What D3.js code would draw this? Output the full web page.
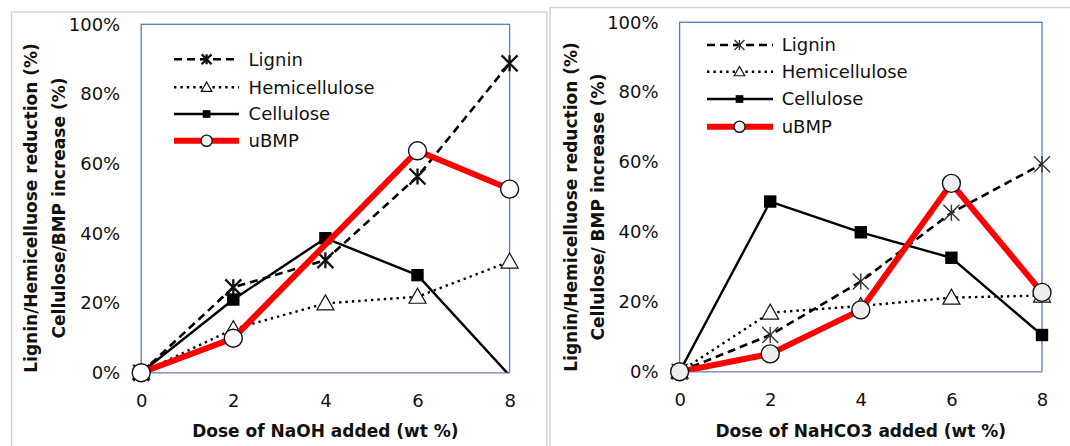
<!DOCTYPE html>
<html>
<head>
<meta charset="utf-8">
<script src="https://cdn.jsdelivr.net/npm/d3@7"></script>
<style>
  body { margin: 0; background: #fff; }
  svg { display: block; }
  text { font-family: "DejaVu Sans", sans-serif; fill: #111; }
</style>
</head>
<body>
<svg id="chart" width="1070" height="446"></svg>
<script>
// doses on the x axis and y tick values
const doses = [0, 2, 4, 6, 8];
const yTicks = [0, 0.2, 0.4, 0.6, 0.8, 1.0];
const seriesNames = ['Lignin', 'Hemicellulose', 'Cellulose', 'uBMP'];

// NaOH panel (left)
const naohLignin = [0, 0.245, 0.323, 0.563, 0.888];
const naohHemi = [0, 0.125, 0.199, 0.218, 0.319];
const naohCellulose = [0, 0.21, 0.386, 0.28, -0.008];
const naohBMP = [0, 0.099, null, 0.637, 0.527];

// NaHCO3 panel (right)
const nahco3Lignin = [0, 0.105, 0.258, 0.455, 0.594];
const nahco3Hemi = [0, 0.169, 0.188, 0.212, 0.218];
const nahco3Cellulose = [0, 0.487, 0.399, 0.326, 0.105];
const nahco3BMP = [0, 0.051, 0.177, 0.539, 0.227];

const svg = d3.select('#chart');

const panels = [
  {
    id: 'naoh',
    frame: {x: 11.5, y: 12, w: 535.5},
    xRange: [141.2, 509.6], yRange: [372.7, 24.3],
    xTitle: 'Dose of NaOH added (wt %)',
    yTitle: ['Lignin/Hemicelluose reduction (%)', 'Cellulose/BMP increase (%)'],
    yTitleX: [37, 65], yTitleY: 208,
    legend: {x0: 174, x1: 239, xm: 206.6, xt: 248.6, ys: [59.3, 87.3, 114, 140.7]},
    values: [naohLignin, naohHemi, naohCellulose, naohBMP],
    starWidth: 2.3, starColor: '#111', circleFill: '#fff'
  },
  {
    id: 'nahco3',
    frame: {x: 550, y: 7.5, w: 540},
    xRange: [679.6, 1042], yRange: [371.7, 22.3],
    xTitle: 'Dose of NaHCO3 added (wt %)',
    yTitle: ['Lignin/Hemicelluose reduction (%)', 'Cellulose/ BMP increase (%)'],
    yTitleX: [576.5, 604], yTitleY: 207,
    legend: {x0: 707, x1: 773, xm: 739.5, xt: 781.7, ys: [45, 71.7, 99, 126.7]},
    values: [nahco3Lignin, nahco3Hemi, nahco3Cellulose, nahco3BMP],
    starWidth: 1.4, starColor: '#333', circleFill: '#eeeeee'
  }
];

function lineStyle(i) {
  if (i === 0) return {stroke: '#000', width: 2.6, dash: '8,5'};
  if (i === 1) return {stroke: '#000', width: 2.4, dash: '2.4,4'};
  if (i === 2) return {stroke: '#000', width: 2.4, dash: null};
  return {stroke: '#ff0000', width: 6, dash: null};
}

function drawMarker(g, i, x, y, p, scale) {
  const s = scale || 1;
  if (i === 0) {
    const h = 8 * s;
    g.append('path')
      .attr('d', `M${x - h},${y - h}L${x + h},${y + h}M${x - h},${y + h}L${x + h},${y - h}M${x},${y - h}L${x},${y + h}`)
      .attr('stroke', p.starColor).attr('stroke-width', p.starWidth).attr('fill', 'none');
  } else if (i === 1) {
    const w = 8.5 * s, t = 8.5 * s, b = 6.5 * s;
    g.append('path')
      .attr('d', `M${x},${y - t}L${x + w},${y + b}L${x - w},${y + b}Z`)
      .attr('fill', '#fff').attr('stroke', '#111').attr('stroke-width', 1.2);
  } else if (i === 2) {
    const h = 6.2 * s;
    g.append('rect')
      .attr('x', x - h).attr('y', y - h).attr('width', 2 * h).attr('height', 2 * h)
      .attr('fill', '#000');
  } else {
    g.append('circle')
      .attr('cx', x).attr('cy', y).attr('r', 9 * s)
      .attr('fill', p.circleFill).attr('stroke', '#111').attr('stroke-width', 1.4);
  }
}

panels.forEach(p => {
  const x = d3.scaleLinear().domain([0, 8]).range(p.xRange);
  const y = d3.scaleLinear().domain([0, 1]).range(p.yRange);

  // outer chart frame
  svg.append('rect')
    .attr('x', p.frame.x).attr('y', p.frame.y)
    .attr('width', p.frame.w).attr('height', 460)
    .attr('fill', 'none').attr('stroke', '#d4d4d4').attr('stroke-width', 1.5);

  // plot area border
  svg.append('rect')
    .attr('x', p.xRange[0]).attr('y', p.yRange[1])
    .attr('width', p.xRange[1] - p.xRange[0]).attr('height', p.yRange[0] - p.yRange[1])
    .attr('fill', 'none').attr('stroke', '#4f7fc4').attr('stroke-width', 1.3);

  // x axis line
  svg.append('line')
    .attr('x1', p.xRange[0]).attr('x2', p.xRange[1])
    .attr('y1', p.yRange[0]).attr('y2', p.yRange[0])
    .attr('stroke', '#8a9ab8').attr('stroke-width', 1.3);

  // y tick labels
  const yAxis = svg.append('g')
    .attr('transform', `translate(${p.xRange[0] - 21},0)`)
    .call(d3.axisLeft(y).tickValues(yTicks).tickFormat(d3.format('.0%')).tickSize(0).tickPadding(0));
  yAxis.select('.domain').remove();
  yAxis.selectAll('text').style('font-size', '18px').attr('fill', '#111');

  // x tick labels
  const xAxis = svg.append('g')
    .attr('transform', `translate(0,${p.yRange[0]})`)
    .call(d3.axisBottom(x).tickValues(doses).tickFormat(d3.format('d')).tickSize(0).tickPadding(22));
  xAxis.select('.domain').remove();
  xAxis.selectAll('text').style('font-size', '18px').attr('fill', '#111');

  // axis titles
  svg.append('text')
    .attr('x', (p.xRange[0] + p.xRange[1]) / 2).attr('y', 437)
    .attr('text-anchor', 'middle')
    .style('font-size', '17px').style('font-weight', 'bold')
    .text(p.xTitle);
  p.yTitle.forEach((t, k) => {
    svg.append('text')
      .attr('transform', `translate(${p.yTitleX[k]},${p.yTitleY}) rotate(-90)`)
      .attr('text-anchor', 'middle')
      .style('font-size', '17px').style('font-weight', 'bold')
      .text(t);
  });

  // clip lines to plot area
  svg.append('clipPath').attr('id', 'clip-' + p.id)
    .append('rect')
    .attr('x', p.xRange[0]).attr('y', p.yRange[1])
    .attr('width', p.xRange[1] - p.xRange[0]).attr('height', p.yRange[0] - p.yRange[1]);

  const line = d3.line().x(d => x(d.x)).y(d => y(d.v));

  p.values.forEach((vals, i) => {
    const st = lineStyle(i);
    const pts = doses.map((d, k) => ({x: d, v: vals[k]})).filter(d => d.v !== null);
    const g = svg.append('g');
    g.append('path')
      .datum(pts)
      .attr('d', line)
      .attr('clip-path', `url(#clip-${p.id})`)
      .attr('fill', 'none')
      .attr('stroke', st.stroke)
      .attr('stroke-width', st.width)
      .attr('stroke-dasharray', st.dash)
      .attr('stroke-linejoin', 'round');
    pts.filter(d => d.v >= 0 && d.v <= 1).forEach(d => drawMarker(g, i, x(d.x), y(d.v), p));
  });

  // legend
  const lg = svg.append('g');
  seriesNames.forEach((name, i) => {
    const st = lineStyle(i);
    const ly = p.legend.ys[i];
    lg.append('line')
      .attr('x1', p.legend.x0).attr('x2', p.legend.x1)
      .attr('y1', ly).attr('y2', ly)
      .attr('stroke', st.stroke).attr('stroke-width', st.width)
      .attr('stroke-dasharray', st.dash);
    drawMarker(lg, i, p.legend.xm, ly, p, 0.62);
    lg.append('text')
      .attr('x', p.legend.xt).attr('y', ly).attr('dy', '0.36em')
      .style('font-size', '18px')
      .text(name);
  });
});
</script>
</body>
</html>
